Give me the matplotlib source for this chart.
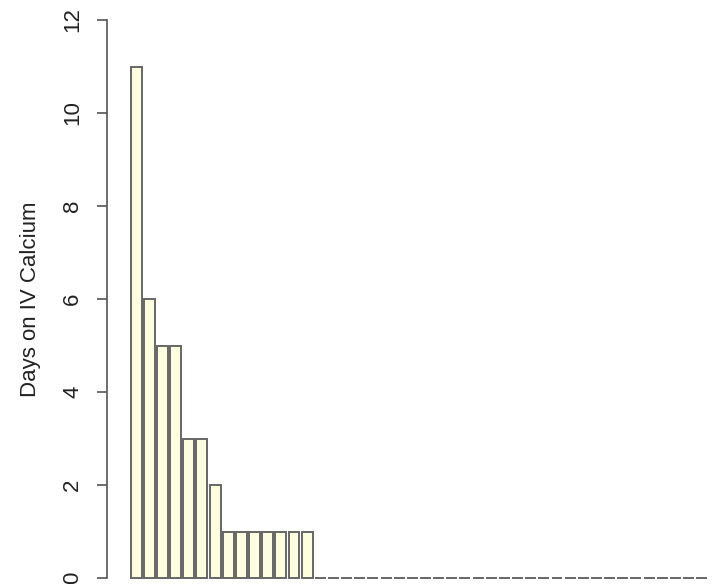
import matplotlib
matplotlib.use("Agg")
import matplotlib.pyplot as plt
import numpy as np

# Data: days on IV calcium per patient (sorted), many patients at zero
days_nonzero = [11, 6, 5, 5, 3, 3, 2, 1, 1, 1, 1, 1, 1, 1]
n_zero = 30
days = days_nonzero + [0] * n_zero
y_ticks = [0, 2, 4, 6, 8, 10, 12]
y_label = "Days on IV Calcium"

W, H = 712, 584
fig = plt.figure(figsize=(W / 100, H / 100), dpi=100)
fig.patch.set_facecolor("white")

left_px, right_px, top_px, bot_px = 107, 712, 20, 578
ax = fig.add_axes([left_px / W, 1 - bot_px / H, (right_px - left_px) / W, (bot_px - top_px) / H])
ax.patch.set_alpha(0)

period_px = 13.15
first_center_px = 136.2
x = np.arange(len(days))
ax.bar(x, days, width=1 / 1.2, color="#fdfde0", edgecolor="#666666", linewidth=1.4,
       clip_on=False, zorder=2)

ax.set_xlim((left_px - first_center_px) / period_px, (right_px - first_center_px) / period_px)
ax.set_ylim(0, 12)

for s in ["top", "right", "bottom"]:
    ax.spines[s].set_visible(False)
ax.spines["left"].set_color("#555555")
ax.spines["left"].set_linewidth(1.2)
ax.set_xticks([])
ax.set_yticks(y_ticks)
ax.set_yticklabels([str(t) for t in y_ticks], rotation=90, va="center",
                   family="Liberation Sans", fontsize=16, color="#222222")
ax.tick_params(axis="y", length=7.2, width=1.2, color="#555555", pad=10)
ax.set_ylabel(y_label, family="Liberation Sans", fontsize=16, color="#222222")
ax.yaxis.set_label_coords(-(107 - 30) / (right_px - left_px), 0.5)
ax.yaxis.label.set_va("center")

fig.savefig("out.png", dpi=100, facecolor="white")
